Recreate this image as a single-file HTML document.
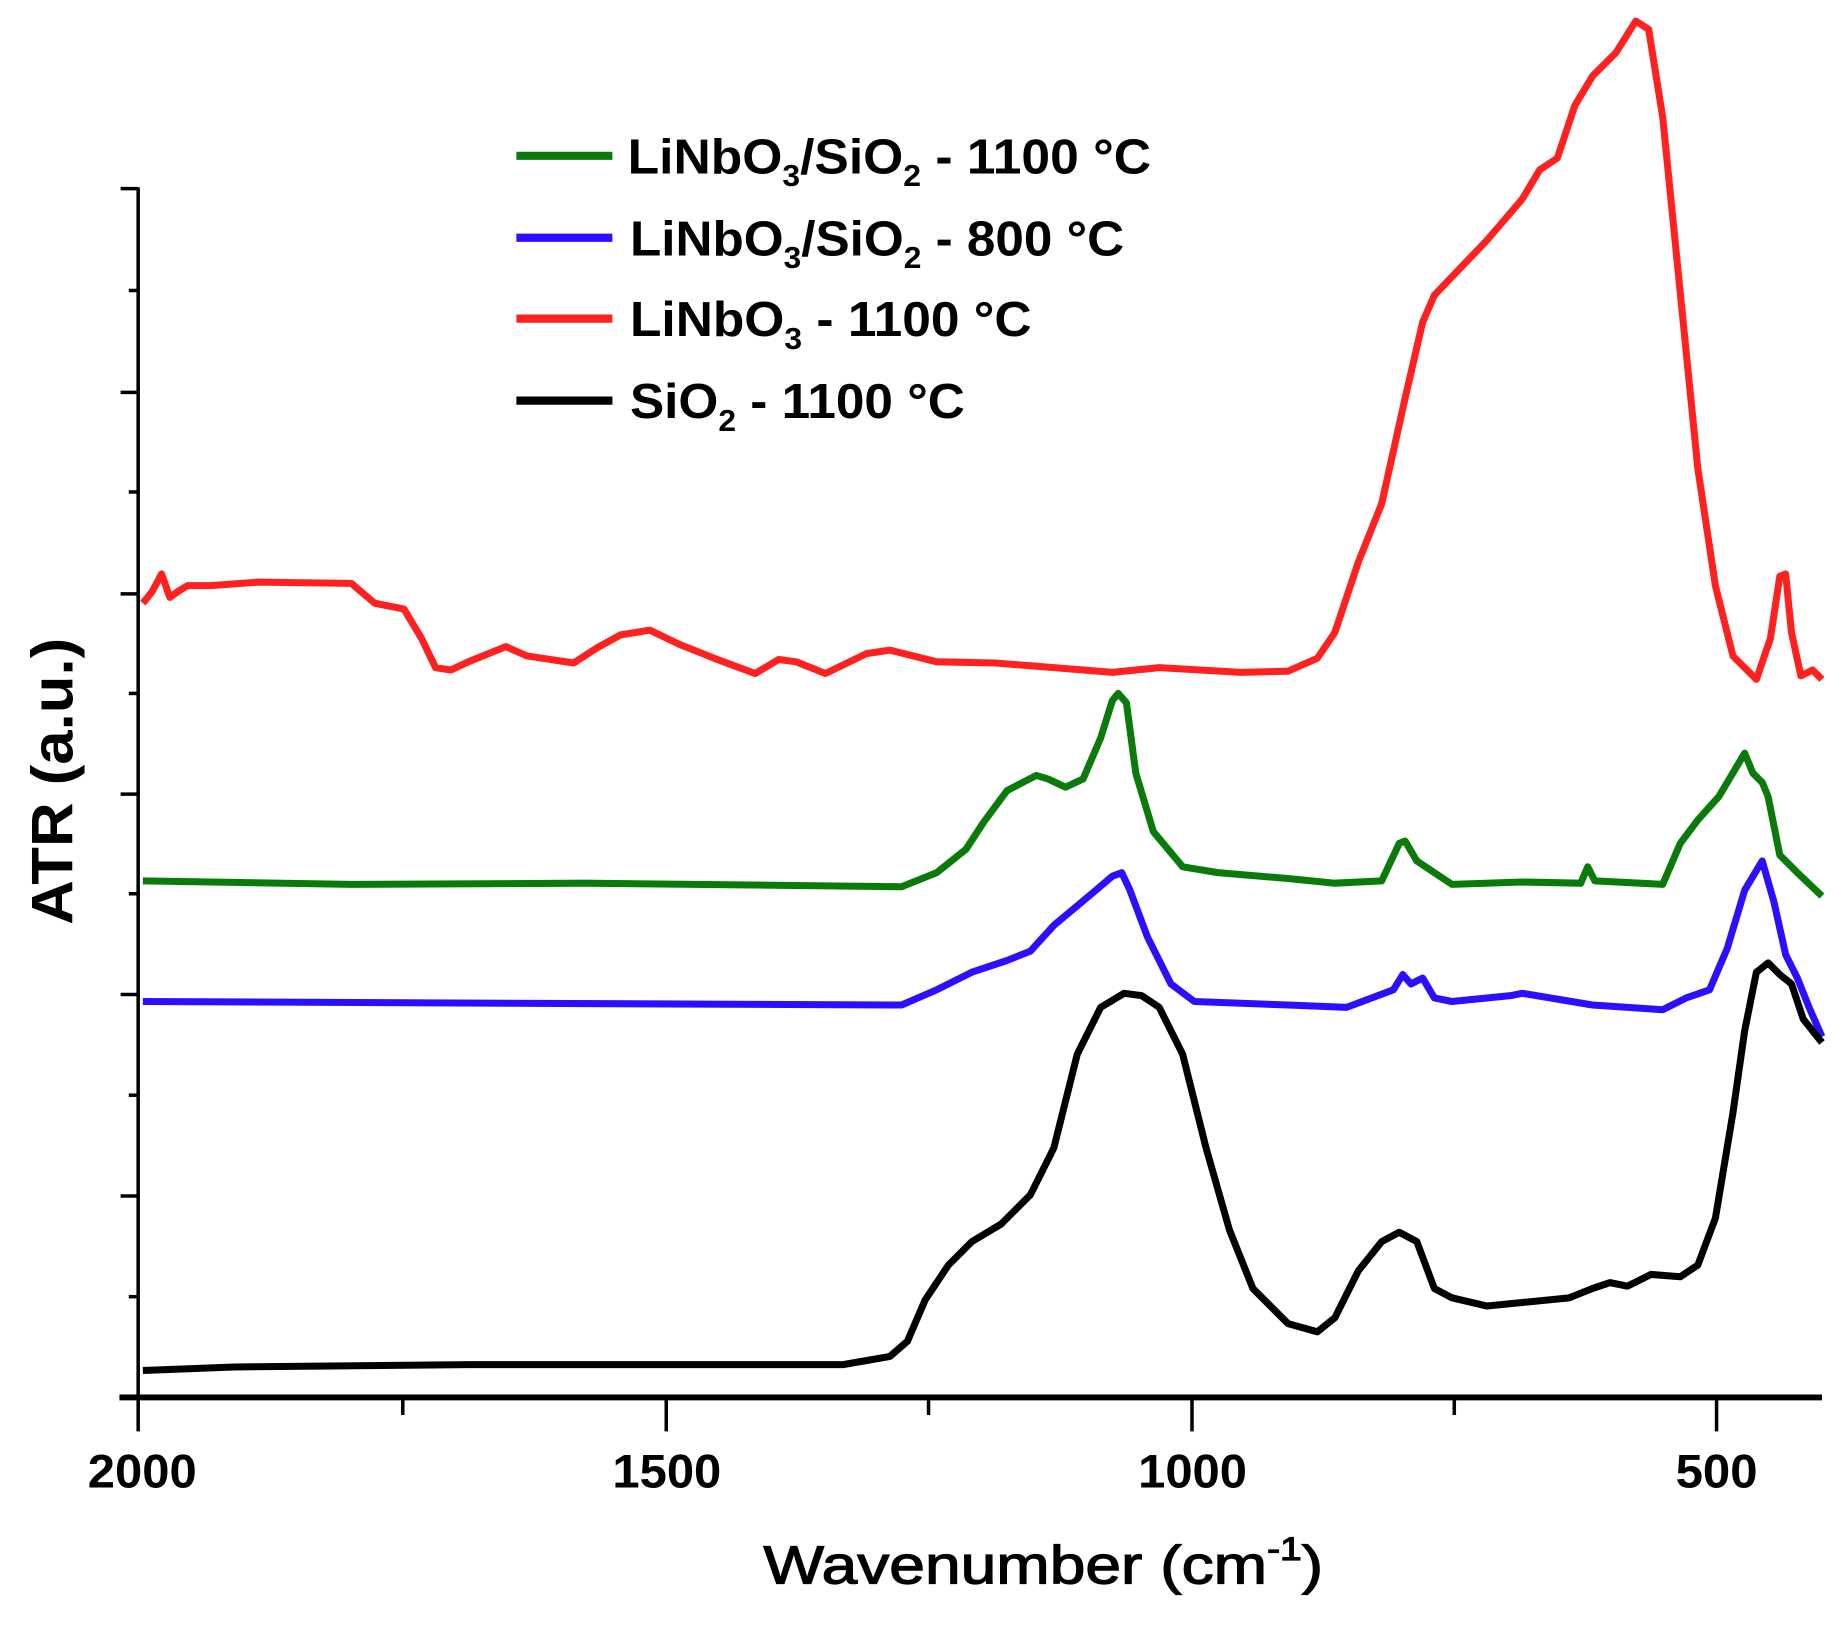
<!DOCTYPE html>
<html><head><style>html,body{margin:0;padding:0;background:#fff}svg{display:block}</style></head>
<body>
<svg width="1836" height="1627" viewBox="0 0 1568 1389" preserveAspectRatio="none" xmlns="http://www.w3.org/2000/svg" font-family="Liberation Sans, Arial, sans-serif" font-weight="bold">
<rect width="1568" height="1389" fill="#fff"/>
<line x1="118" y1="160" x2="118" y2="1193" stroke="#000" stroke-width="3"/>
<line x1="102" y1="1193" x2="1556" y2="1193" stroke="#000" stroke-width="5"/>
<g stroke="#000" stroke-width="3">
<line x1="103" y1="161" x2="118" y2="161"/><line x1="103" y1="335" x2="118" y2="335"/><line x1="103" y1="507" x2="118" y2="507"/><line x1="103" y1="678" x2="118" y2="678"/><line x1="103" y1="849" x2="118" y2="849"/><line x1="103" y1="1021" x2="118" y2="1021"/>
<line x1="110" y1="248" x2="118" y2="248"/><line x1="110" y1="420" x2="118" y2="420"/><line x1="110" y1="592" x2="118" y2="592"/><line x1="110" y1="763" x2="118" y2="763"/><line x1="110" y1="935" x2="118" y2="935"/><line x1="110" y1="1107" x2="118" y2="1107"/>
<line x1="118" y1="1193" x2="118" y2="1222"/><line x1="569" y1="1193" x2="569" y2="1222"/><line x1="1018" y1="1193" x2="1018" y2="1222"/><line x1="1466" y1="1193" x2="1466" y2="1222"/>
<line x1="344" y1="1193" x2="344" y2="1208"/><line x1="793" y1="1193" x2="793" y2="1208"/><line x1="1242" y1="1193" x2="1242" y2="1208"/>
</g>
<g font-size="40">
<text x="75" y="1270" textLength="93" lengthAdjust="spacingAndGlyphs">2000</text>
<text x="523" y="1270" textLength="93" lengthAdjust="spacingAndGlyphs">1500</text>
<text x="972" y="1270" textLength="93" lengthAdjust="spacingAndGlyphs">1000</text>
<text x="1431" y="1270" textLength="70" lengthAdjust="spacingAndGlyphs">500</text>
</g>
<text x="652" y="1352" font-size="46" font-weight="normal" stroke="#000" stroke-width="1" textLength="478" lengthAdjust="spacingAndGlyphs">Wavenumber (cm<tspan dy="-20" font-size="28">-1</tspan><tspan dy="20">)</tspan></text>
<text transform="translate(62,667) rotate(-90)" font-size="50" text-anchor="middle" textLength="245" lengthAdjust="spacingAndGlyphs">ATR (a.u.)</text>
<g fill="none" stroke-width="6" stroke-linejoin="round">
<polyline stroke="#ff2020" points="122,515 130,505 138,490 145,510 152,505 160,500 180,500 220,497 300,498 320,515 345,520 360,545 372,570 385,572 400,565 432,552 450,560 490,566 510,553 530,542 555,538 580,550 610,562 645,575 665,563 680,565 705,575 740,558 760,555 800,565 850,566 900,570 950,574 990,570 1060,574 1100,573 1125,562 1140,540 1160,480 1180,430 1200,340 1215,275 1225,252 1270,205 1300,170 1315,145 1330,135 1345,90 1360,65 1380,45 1397,18 1408,25 1420,100 1435,250 1450,400 1465,500 1480,560 1500,580 1512,545 1520,492 1525,490 1530,540 1538,577 1548,572 1556,580"/>
<polyline stroke="#0a7a0a" points="122,752 300,755 500,754 770,757 800,745 825,725 840,702 860,675 885,662 895,665 910,672 925,665 940,630 950,598 955,592 962,600 970,660 985,710 1010,740 1040,745 1100,750 1140,754 1180,752 1195,720 1200,718 1210,735 1225,745 1240,755 1300,753 1350,754 1356,740 1362,752 1420,755 1435,720 1450,700 1468,680 1490,643 1497,660 1505,668 1510,680 1520,730 1535,745 1556,765"/>
<polyline stroke="#2a10ff" points="122,855 760,858 770,858 800,845 830,830 860,820 880,812 900,790 930,765 950,748 958,745 965,760 980,800 1000,840 1020,855 1100,858 1150,860 1190,845 1198,832 1205,840 1215,835 1225,852 1240,855 1290,850 1300,848 1360,858 1420,862 1440,852 1460,845 1475,810 1490,760 1505,735 1515,770 1525,815 1535,835 1545,860 1556,885"/>
<polyline stroke="#000" points="122,1170 200,1167 400,1165 720,1165 760,1158 775,1145 790,1110 810,1080 830,1060 855,1045 880,1020 900,980 920,900 940,860 960,848 975,850 990,860 1010,900 1030,980 1050,1050 1070,1100 1100,1130 1125,1137 1140,1125 1160,1085 1180,1060 1195,1052 1210,1060 1225,1100 1240,1108 1270,1115 1300,1112 1340,1108 1360,1100 1375,1095 1390,1098 1410,1088 1435,1090 1450,1080 1465,1040 1480,950 1490,880 1500,830 1510,822 1520,832 1530,840 1540,870 1556,890"/>
</g>
<g stroke-width="7">
<line x1="441" y1="133" x2="523" y2="133" stroke="#0a7a0a"/>
<line x1="441" y1="203" x2="523" y2="203" stroke="#2a10ff"/>
<line x1="441" y1="272" x2="523" y2="272" stroke="#ff2020"/>
<line x1="441" y1="342" x2="523" y2="342" stroke="#000"/>
</g>
<g font-size="42">
<text x="536" y="148" textLength="447" lengthAdjust="spacingAndGlyphs">LiNbO<tspan dy="11" font-size="26">3</tspan><tspan dy="-11">/SiO</tspan><tspan dy="11" font-size="26">2</tspan><tspan dy="-11"> - 1100 °C</tspan></text>
<text x="538" y="218" textLength="422" lengthAdjust="spacingAndGlyphs">LiNbO<tspan dy="11" font-size="26">3</tspan><tspan dy="-11">/SiO</tspan><tspan dy="11" font-size="26">2</tspan><tspan dy="-11"> - 800 °C</tspan></text>
<text x="538" y="287" textLength="343" lengthAdjust="spacingAndGlyphs">LiNbO<tspan dy="11" font-size="26">3</tspan><tspan dy="-11"> - 1100 °C</tspan></text>
<text x="538" y="357" textLength="286" lengthAdjust="spacingAndGlyphs">SiO<tspan dy="11" font-size="26">2</tspan><tspan dy="-11"> - 1100 °C</tspan></text>
</g>
</svg>
</body></html>
